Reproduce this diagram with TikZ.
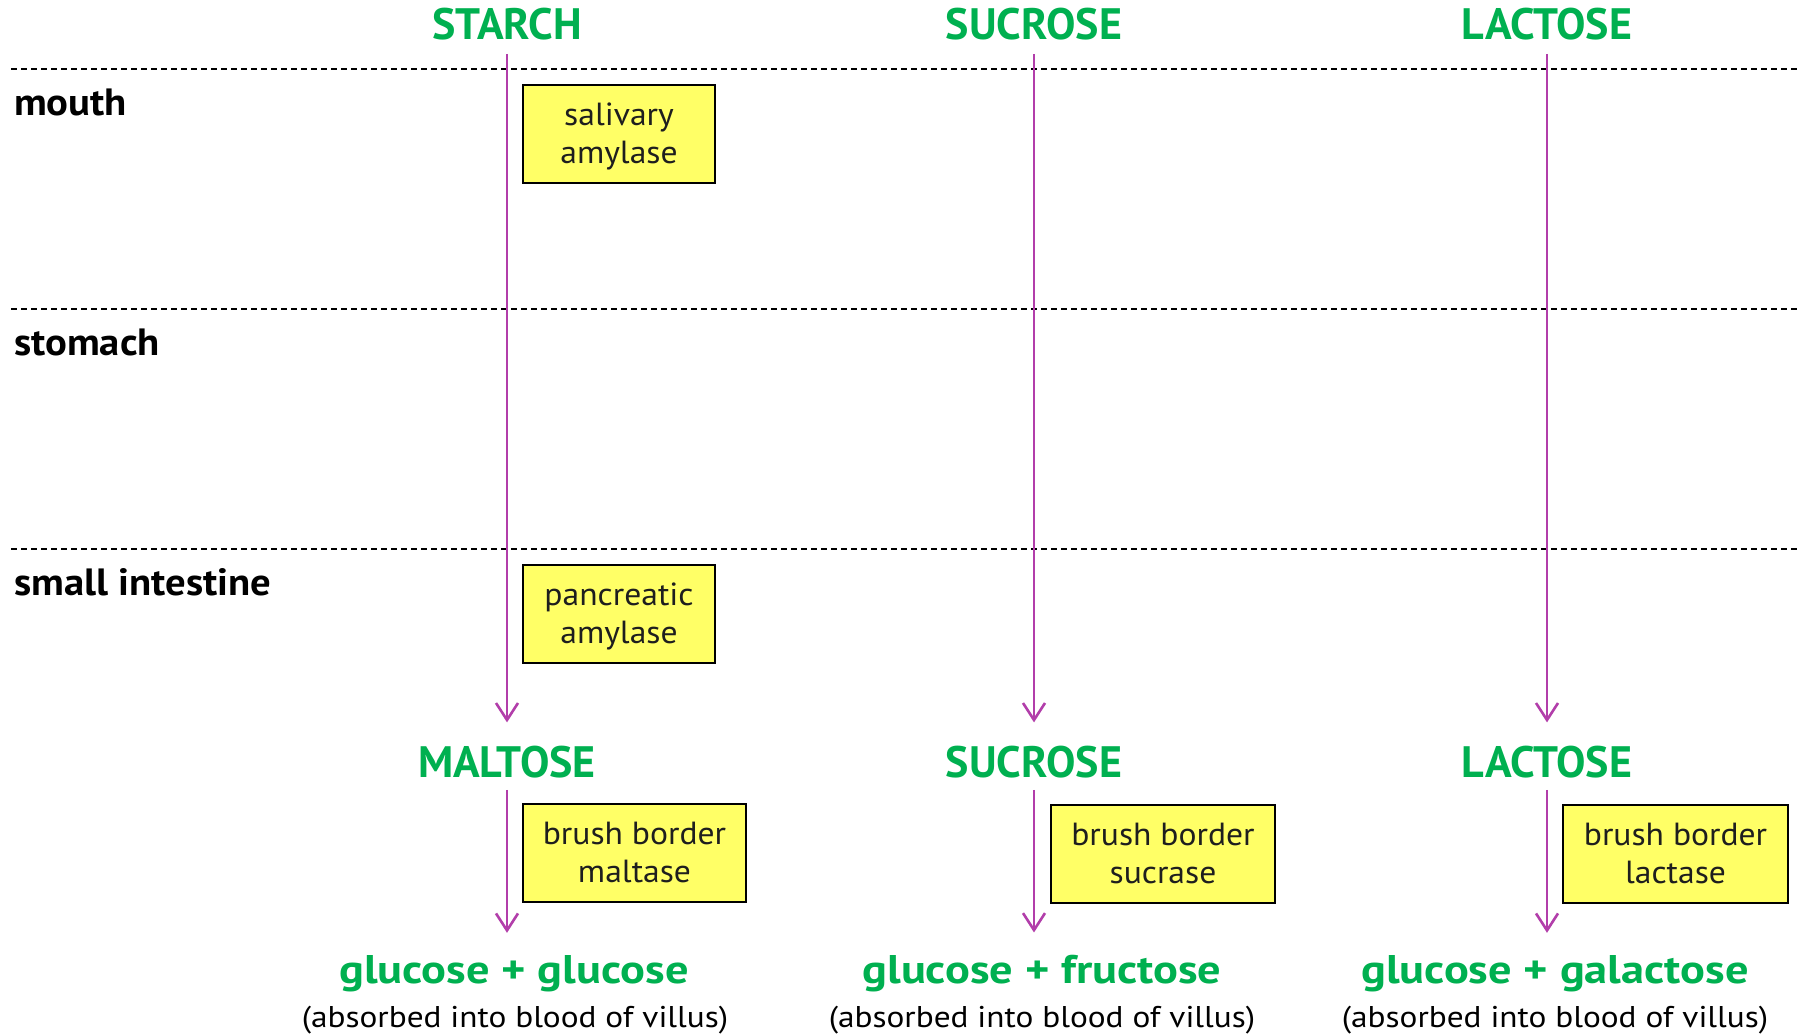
\documentclass[tikz,border=0pt]{standalone}
\usepackage{fontspec}
\setmainfont{PT Sans}
\newfontfamily\prodfont[FakeStretch=1.16]{PT Sans}
\newfontfamily\notefont[FakeStretch=1.11]{PT Sans}
\newfontfamily\enzfont[FakeStretch=1.05]{PT Sans}
\newfontfamily\regfont[FakeStretch=1.07]{PT Sans}
\usetikzlibrary{arrows.meta}
\definecolor{sugar}{RGB}{0,176,80}
\definecolor{flow}{RGB}{178,62,170}
\definecolor{enzfill}{RGB}{255,255,102}
\definecolor{ink}{RGB}{30,30,30}
\begin{document}
\begin{tikzpicture}[x=1pt,y=-1pt,
  sugarhead/.style={text=sugar,inner sep=0pt,anchor=base,font=\fontsize{44}{48}\selectfont\bfseries},
  product/.style={text=sugar,inner sep=0pt,anchor=base,font=\prodfont\fontsize{40}{44}\selectfont\bfseries},
  note/.style={text=black,inner sep=0pt,anchor=base,font=\notefont\fontsize{30}{34}\selectfont},
  region/.style={text=black,inner sep=0pt,anchor=base west,font=\regfont\fontsize{38}{42}\selectfont\bfseries},
  enzyme/.style={draw=black,line width=2.5pt,fill=enzfill,text=ink,align=center,inner sep=0pt,
    font=\enzfont\fontsize{32}{38}\selectfont,text height=69.6pt,text depth=11.4pt},
  divider/.style={line width=1.5pt,dash pattern=on 6pt off 4pt},
  flowarrow/.style={draw=flow,line width=2.6pt,-{Straight Barb[length=17pt,width=22pt,line width=2.6pt]}}
]
\useasboundingbox (0,0) rectangle (1806,1033);

% region dividers
\coordinate (d1a) at (11,69);   \coordinate (d1b) at (1800,69);
\coordinate (d2a) at (11,309);  \coordinate (d2b) at (1800,309);
\coordinate (d3a) at (11,549);  \coordinate (d3b) at (1800,549);
\draw[divider] (d1a) -- (d1b);
\draw[divider] (d2a) -- (d2b);
\draw[divider] (d3a) -- (d3b);

% region labels
\node[region] (mouth) at (14,115) {mouth};
\node[region] (stomach) at (14,355) {stomach};
\node[region] (intestine) at (14,595) {small intestine};

% starting carbohydrates
\node[sugarhead] (starch) at (507,40) {STARCH};
\node[sugarhead] (sucrose) at (1034,40) {SUCROSE};
\node[sugarhead] (lactose) at (1547,40) {LACTOSE};

% intermediate sugars
\node[sugarhead] (maltose) at (507,777) {MALTOSE};
\node[sugarhead] (sucrose2) at (1034,777) {SUCROSE};
\node[sugarhead] (lactose2) at (1547,777) {LACTOSE};

% final products
\node[product] (prod1) at (514,983) {glucose + glucose};
\node[product] (prod2) at (1042,983) {glucose + fructose};
\node[product] (prod3) at (1555,983) {glucose + galactose};
\node[note] (abs1) at (515,1027) {(absorbed into blood of villus)};
\node[note] (abs2) at (1042,1027) {(absorbed into blood of villus)};
\node[note] (abs3) at (1555,1027) {(absorbed into blood of villus)};

% digestion steps
\draw[flowarrow,shorten <=13pt,shorten >=23pt] (starch.south) -- (maltose.north);
\draw[flowarrow,shorten <=13pt,shorten >=23pt] (sucrose.south) -- (sucrose2.north);
\draw[flowarrow,shorten <=13pt,shorten >=23pt] (lactose.south) -- (lactose2.north);
\draw[flowarrow,shorten <=12pt,shorten >=22pt] (maltose.south) -- (maltose.south |- prod1.north);
\draw[flowarrow,shorten <=12pt,shorten >=22pt] (sucrose2.south) -- (sucrose2.south |- prod2.north);
\draw[flowarrow,shorten <=12pt,shorten >=22pt] (lactose2.south) -- (lactose2.south |- prod3.north);

% enzymes
\node[enzyme,minimum width=192pt,minimum height=98pt] (salivary) at (619,134) {salivary\\amylase};
\node[enzyme,minimum width=192pt,minimum height=98pt] (pancreatic) at (619,614) {pancreatic\\amylase};
\node[enzyme,minimum width=223pt,minimum height=98pt] (maltase) at (634.5,853) {brush border\\maltase};
\node[enzyme,minimum width=224pt,minimum height=98pt] (sucrase) at (1163,854) {brush border\\sucrase};
\node[enzyme,minimum width=225pt,minimum height=98pt] (lactase) at (1675.5,854) {brush border\\lactase};
\end{tikzpicture}
\end{document}
